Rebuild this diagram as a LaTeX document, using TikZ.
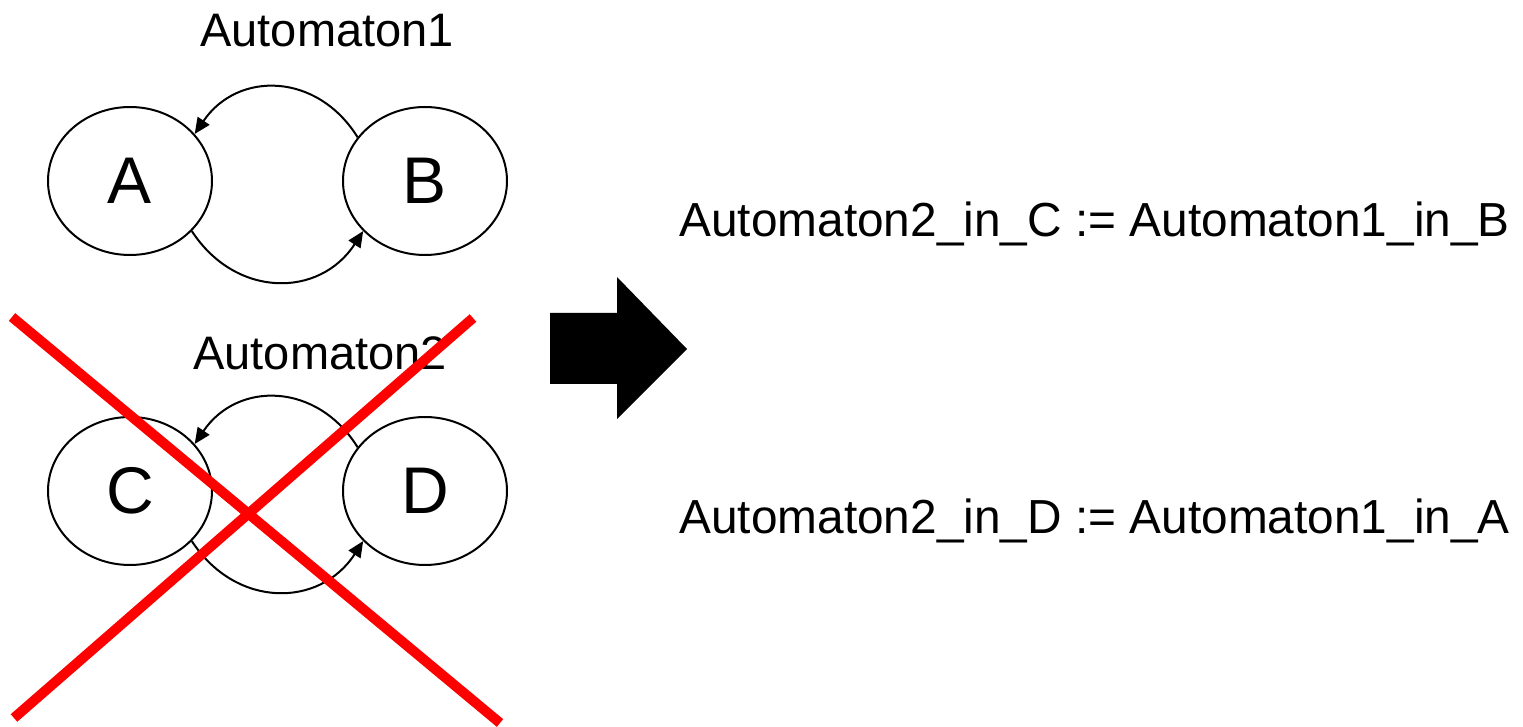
\documentclass[tikz,border=0pt]{standalone}
\usepackage{fontspec}
\setmainfont{Liberation Sans}
\usetikzlibrary{arrows.meta,shapes.geometric}
\begin{document}
\begin{tikzpicture}[x=0.5pt,y=-0.5pt,
  state/.style={draw=black,line width=1pt,ellipse,minimum width=82pt,minimum height=74pt,inner sep=0pt,font=\fontsize{33}{38}\selectfont},
  lbl/.style={anchor=base west,inner sep=0pt,font=\fontsize{23.5}{28}\selectfont},
  eq/.style={anchor=base west,inner sep=0pt,font=\fontsize{23.9}{28}\selectfont},
  trans/.style={draw=black,line width=1pt,-{Triangle[length=8pt,width=7pt]},looseness=1.2},
  cross/.style={draw=red,line width=5pt}]
\useasboundingbox (0,0) rectangle (1523,727);
% Automaton 1
\node[lbl] (t1) at (200,47) {Automaton1};
\node[state] (A) at (130,181) {A};
\node[state] (B) at (425,181) {B};
\draw[trans] (B.147) to[bend right=57] (A.36);
\draw[trans] (A.-39) to[bend right=57] (B.-141);
% Automaton 2
\node[lbl] (t2) at (193,370) {Automaton2};
\node[state] (C) at (130,491) {C};
\node[state] (D) at (425,491) {D};
\draw[trans] (D.147) to[bend right=57] (C.36);
\draw[trans] (C.-39) to[bend right=57] (D.-141);
% red cross
\coordinate (x1a) at (12,317);
\coordinate (x1b) at (500,723);
\coordinate (x2a) at (473,318);
\coordinate (x2b) at (14,718);
\draw[cross] (x1a) -- (x1b);
\draw[cross] (x2a) -- (x2b);
% big arrow
\fill[black] (550,313) -- (617,313) -- (617,277) -- (687,349) -- (617,419) -- (617,384) -- (550,384) -- cycle;
% equations
\node[eq] (e1) at (679,237) {Automaton2\_in\_C := Automaton1\_in\_B};
\node[eq] (e2) at (679,534) {Automaton2\_in\_D := Automaton1\_in\_A};
\end{tikzpicture}
\end{document}
